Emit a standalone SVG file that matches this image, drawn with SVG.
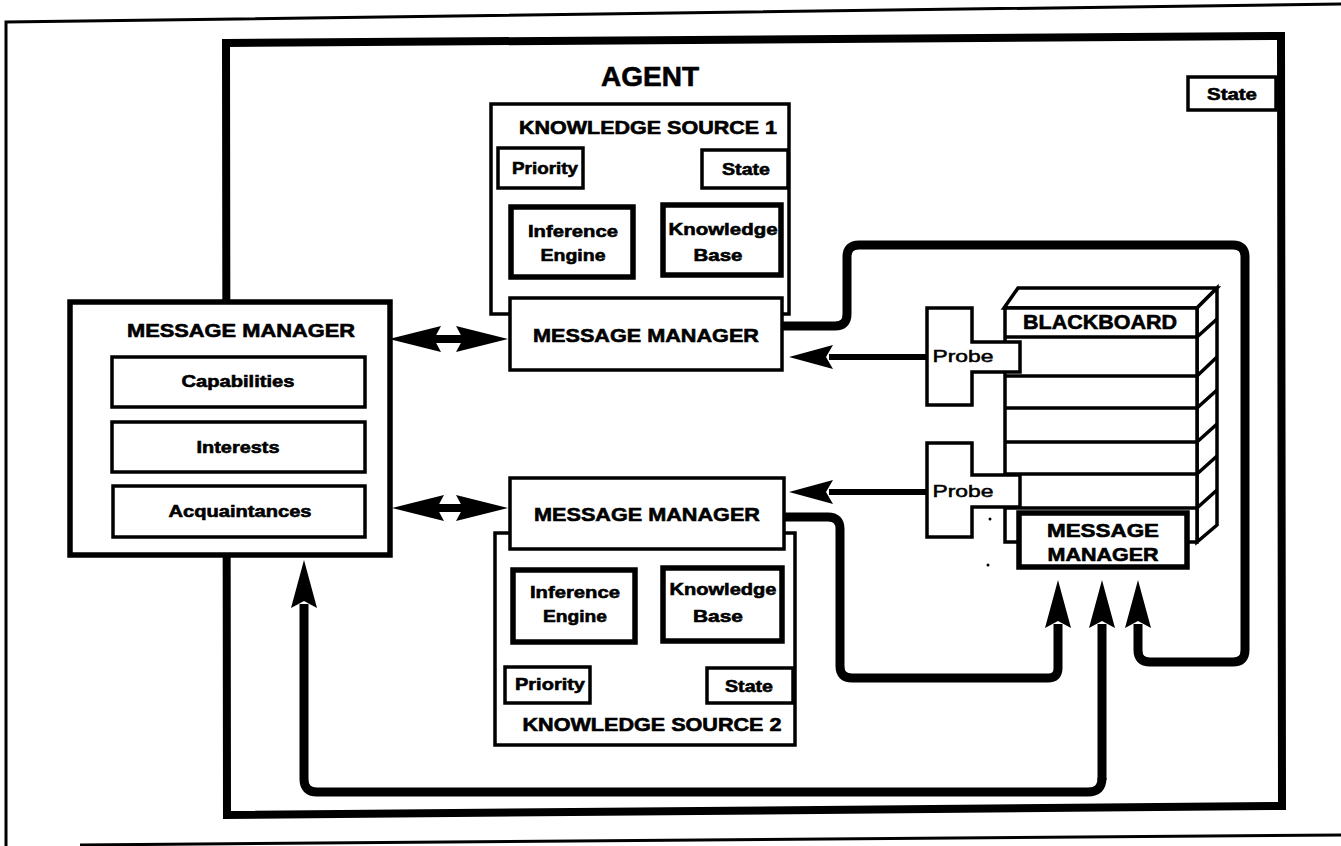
<svg xmlns="http://www.w3.org/2000/svg" width="1341" height="846" viewBox="0 0 1341 846">
<style>
text{font-family:"Liberation Sans",Arial,sans-serif;fill:#000;text-anchor:middle}
.b{font-weight:bold;stroke:#000;stroke-width:0.6}
.r{stroke:#000;stroke-width:0.5}
.box{fill:#fff;stroke:#000;stroke-width:3.5}
.thick{fill:#fff;stroke:#000;stroke-width:5.5}
.frame{fill:none;stroke:#000}
.conn{fill:none;stroke:#000;stroke-width:9;stroke-linejoin:round}
.thin{fill:none;stroke:#000;stroke-width:6}
.shaft{fill:none;stroke:#000;stroke-width:8}
.head{fill:#000}
.line{stroke:#000;stroke-width:3.5;fill:none}
</style>
<defs>
<marker id="ah" markerUnits="userSpaceOnUse" viewBox="0 0 48 28" markerWidth="48" markerHeight="28" refX="4" refY="14" orient="auto">
<path d="M0,1 L48,14 L0,27 L7,14 z" fill="#000"/>
</marker>
<marker id="ahs" markerUnits="userSpaceOnUse" viewBox="0 0 44 26" markerWidth="44" markerHeight="26" refX="4" refY="13" orient="auto">
<path d="M0,1 L44,13 L0,25 L7,13 z" fill="#000"/>
</marker>
<path id="dhead" d="M0,0 L52,-13 L45,0 L52,13 z"/>
</defs>
<rect width="1341" height="846" fill="#fff"/>

<g id="page-frame">
<path class="frame" stroke-width="3" d="M1341,4 L6,22 L6,846"/>
<path class="frame" stroke-width="3" d="M80,845 L1341,835"/>
</g>

<g id="agent">
<polygon class="frame" stroke-width="8" points="226,43 1281,36 1282,806 227,815"/>
<text class="b" x="650" y="86" font-size="28">AGENT</text>
</g>

<g id="agent-state">
<rect class="box" x="1188" y="77" width="88" height="33"/>
<text class="b" x="1232" y="100" font-size="17" textLength="50" lengthAdjust="spacingAndGlyphs">State</text>
</g>

<g id="connectors">
<path class="conn" d="M780,326 H835 Q847,326 847,314 V257 Q847,245 859,245 H1233 Q1245,245 1245,257 V650 Q1245,662 1233,662 H1150 Q1138,662 1138,650 V624" marker-end="url(#ah)"/>
<path class="conn" d="M782,517 H828 Q840,517 840,529 V666 Q840,678 852,678 H1048 Q1058,678 1058,668 V624" marker-end="url(#ah)"/>
<path class="conn" d="M1102,780 V624" marker-end="url(#ah)"/>
<path class="conn" d="M1102,778 Q1102,792 1088,792 H317 Q304,792 304,779 V604" marker-end="url(#ah)"/>
<path class="thin" d="M927,357 H829" marker-end="url(#ahs)"/>
<path class="thin" d="M927,492 H829" marker-end="url(#ahs)"/>
<g id="double-arrow-1">
<path class="shaft" d="M430,339 H465"/>
<use href="#dhead" class="head" transform="translate(389,339)"/>
<use href="#dhead" class="head" transform="translate(508,339) scale(-1,1)"/>
</g>
<g id="double-arrow-2">
<path class="shaft" d="M432,508 H465"/>
<use href="#dhead" class="head" transform="translate(392,508)"/>
<use href="#dhead" class="head" transform="translate(508,508) scale(-1,1)"/>
</g>
</g>

<g id="knowledge-source-1">
<rect class="box" x="491" y="104" width="298" height="210" stroke-width="4"/>
<text class="b" x="648" y="134" font-size="18" textLength="258" lengthAdjust="spacingAndGlyphs">KNOWLEDGE SOURCE 1</text>
<rect class="box" x="498" y="148" width="85" height="40"/>
<text class="b" x="545" y="174" font-size="17" textLength="66" lengthAdjust="spacingAndGlyphs">Priority</text>
<rect class="box" x="702" y="150" width="86" height="38"/>
<text class="b" x="746" y="175" font-size="17" textLength="48" lengthAdjust="spacingAndGlyphs">State</text>
<rect class="thick" x="511" y="207" width="122" height="70"/>
<text class="b" x="573" y="237" font-size="17" textLength="90" lengthAdjust="spacingAndGlyphs">Inference</text>
<text class="b" x="573" y="261" font-size="17" textLength="65" lengthAdjust="spacingAndGlyphs">Engine</text>
<rect class="thick" x="663" y="205" width="118" height="70"/>
<text class="b" x="723" y="235" font-size="17" textLength="109" lengthAdjust="spacingAndGlyphs">Knowledge</text>
<text class="b" x="718" y="261" font-size="17" textLength="49" lengthAdjust="spacingAndGlyphs">Base</text>
</g>

<g id="ks1-message-manager">
<rect class="box" x="510" y="298" width="272" height="72" stroke-width="4"/>
<text class="b" x="646" y="342" font-size="19" textLength="226" lengthAdjust="spacingAndGlyphs">MESSAGE MANAGER</text>
</g>

<g id="knowledge-source-2">
<rect class="box" x="495" y="533" width="300" height="212" stroke-width="4"/>
<rect class="thick" x="513" y="570" width="122" height="72"/>
<text class="b" x="575" y="598" font-size="17" textLength="90" lengthAdjust="spacingAndGlyphs">Inference</text>
<text class="b" x="575" y="622" font-size="17" textLength="64" lengthAdjust="spacingAndGlyphs">Engine</text>
<rect class="thick" x="663" y="568" width="119" height="73"/>
<text class="b" x="723" y="595" font-size="17" textLength="107" lengthAdjust="spacingAndGlyphs">Knowledge</text>
<text class="b" x="718" y="622" font-size="17" textLength="50" lengthAdjust="spacingAndGlyphs">Base</text>
<rect class="box" x="505" y="667" width="85" height="36"/>
<text class="b" x="550" y="690" font-size="17" textLength="70" lengthAdjust="spacingAndGlyphs">Priority</text>
<rect class="box" x="707" y="668" width="86" height="35"/>
<text class="b" x="749" y="692" font-size="17" textLength="48" lengthAdjust="spacingAndGlyphs">State</text>
<text class="b" x="652" y="731" font-size="18" textLength="259" lengthAdjust="spacingAndGlyphs">KNOWLEDGE SOURCE 2</text>
</g>

<g id="ks2-message-manager">
<rect class="box" x="510" y="478" width="274" height="71" stroke-width="4"/>
<text class="b" x="647" y="521" font-size="19" textLength="226" lengthAdjust="spacingAndGlyphs">MESSAGE MANAGER</text>
</g>

<g id="agent-message-manager">
<rect class="thick" x="70" y="302" width="320" height="253"/>
<text class="b" x="241" y="337" font-size="19" textLength="228" lengthAdjust="spacingAndGlyphs">MESSAGE MANAGER</text>
<rect class="box" x="112" y="357" width="253" height="50"/>
<text class="b" x="238" y="387" font-size="17" textLength="113" lengthAdjust="spacingAndGlyphs">Capabilities</text>
<rect class="box" x="112" y="422" width="253" height="50"/>
<text class="b" x="238" y="453" font-size="17" textLength="83" lengthAdjust="spacingAndGlyphs">Interests</text>
<rect class="box" x="113" y="486" width="252" height="51"/>
<text class="b" x="240" y="517" font-size="17" textLength="143" lengthAdjust="spacingAndGlyphs">Acquaintances</text>
</g>

<g id="blackboard">
<polygon class="box" stroke-width="4" points="1004,308 1018,288 1217,288 1197,308"/>
<polygon class="box" stroke-width="4" points="1197,308 1217,288 1217,525 1197,542"/>
<rect class="box" x="1005" y="308" width="192" height="234" stroke-width="4"/>
<g class="line" stroke-width="4">
<path d="M1005,337 H1197 M1005,376 H1197 M1005,408 H1197 M1005,442 H1197 M1005,474 H1197 M1005,508 H1197"/>
<path d="M1197,337 L1217,319 M1197,376 L1217,357 M1197,408 L1217,390 M1197,442 L1217,424 M1197,474 L1217,456 M1197,508 L1217,490"/>
</g>
<text class="b" x="1100" y="329" font-size="20" textLength="154" lengthAdjust="spacingAndGlyphs">BLACKBOARD</text>
</g>

<g id="probe-1">
<polygon class="box" points="927,308 972,308 972,342 1020,342 1020,372 972,372 972,405 927,405"/>
<text class="r" x="963" y="362" font-size="17" textLength="61" lengthAdjust="spacingAndGlyphs">Probe</text>
</g>

<g id="probe-2">
<polygon class="box" points="927,443 972,443 972,475 1020,475 1020,507 972,507 972,537 927,537"/>
<text class="r" x="963" y="497" font-size="17" textLength="61" lengthAdjust="spacingAndGlyphs">Probe</text>
</g>

<g id="blackboard-message-manager">
<rect class="thick" x="1019" y="513" width="168" height="54"/>
<text class="b" x="1103" y="537" font-size="18" textLength="112" lengthAdjust="spacingAndGlyphs">MESSAGE</text>
<text class="b" x="1103" y="561" font-size="18" textLength="111" lengthAdjust="spacingAndGlyphs">MANAGER</text>
</g>

<g id="specks">
<circle cx="990" cy="519" r="1.5" fill="#000"/>
<circle cx="988" cy="565" r="1.5" fill="#000"/>
</g>
</svg>
